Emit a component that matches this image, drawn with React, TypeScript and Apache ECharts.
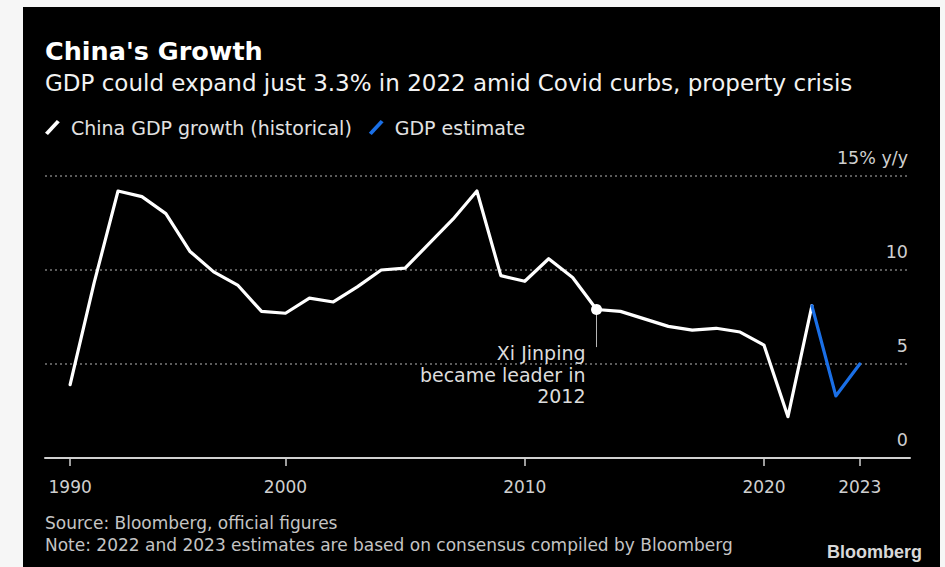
import React, { useEffect, useRef } from "react";
import * as echarts from "echarts";

// Annual real GDP growth, % y/y
const histYears = [
  1990, 1991, 1992, 1993, 1994, 1995, 1996, 1997, 1998, 1999,
  2000, 2001, 2002, 2003, 2004, 2005, 2006, 2007, 2008, 2009,
  2010, 2011, 2012, 2013, 2014, 2015, 2016, 2017, 2018, 2019,
  2020, 2021,
];
const histValues = [
  3.9, 9.3, 14.2, 13.9, 13.0, 11.0, 9.9, 9.2, 7.8, 7.7,
  8.5, 8.3, 9.1, 10.0, 10.1, 11.4, 12.7, 14.2, 9.7, 9.4,
  10.6, 9.6, 7.9, 7.8, 7.4, 7.0, 6.8, 6.9, 6.7, 6.0,
  2.2, 8.1,
];
const estYears = [2021, 2022, 2023];
const estValues = [8.1, 3.3, 5.0];

// x-axis ticks (year-end dates); first and last show the data's own years
const tickValues = [1991, 2000, 2010, 2020, 2024];
const tickLabels = ["1990", "2000", "2010", "2020", "2023"];
const yTicks = [0, 5, 10, 15];

const annotationYear = 2012;
const annotationValue = 7.9;
const annotationLineEnd = 5.9;
const annotationText = "Xi Jinping\nbecame leader in\n2012";

const FONT = "'DejaVu Sans', Verdana, sans-serif";

// each annual value is placed at the end of its year
const yearEnd = (y: number) => y + 1;

export default function App() {
  const ref = useRef<HTMLDivElement>(null);

  useEffect(() => {
    if (!ref.current) return;
    const chart = echarts.init(ref.current, undefined, { renderer: "svg" });

    const histData = histYears.map((y, i) => [yearEnd(y), histValues[i]]);
    const estData = estYears.map((y, i) => [yearEnd(y), estValues[i]]);

    chart.setOption({
      animation: false,
      backgroundColor: "#f6f6f6",
      textStyle: { fontFamily: FONT },
      title: {
        text: "China's Growth",
        subtext: "GDP could expand just 3.3% in 2022 amid Covid curbs, property crisis",
        left: 45,
        top: 38,
        padding: 0,
        itemGap: 7,
        textStyle: { color: "#ffffff", fontSize: 25.5, fontWeight: "bold", fontFamily: FONT },
        subtextStyle: { color: "#f2f2f2", fontSize: 23, fontFamily: FONT },
      },
      legend: {
        left: 45,
        top: 118,
        padding: 0,
        itemWidth: 15,
        itemHeight: 15,
        itemGap: 17,
        icon: "path://M0,13 L12,0 L15,2.2 L3,15.2 Z",
        textStyle: { color: "#e2e2e2", fontSize: 19, fontFamily: FONT, padding: [0, 0, 0, 6] },
        data: ["China GDP growth (historical)", "GDP estimate"],
      },
      grid: { left: 45, right: 35, top: 176, bottom: 109 },
      xAxis: {
        type: "value",
        min: 1989.95,
        max: 2026.1,
        axisLine: { show: true, lineStyle: { color: "#d0d0d0", width: 2 } },
        axisTick: {
          show: true,
          length: 8,
          customValues: tickValues,
          lineStyle: { color: "#d0d0d0", width: 1.5 },
        },
        axisLabel: {
          customValues: tickValues,
          margin: 20,
          color: "#cfcfcf",
          fontSize: 17,
          fontFamily: FONT,
          formatter: (v: number) => {
            const i = tickValues.indexOf(v);
            return i >= 0 ? tickLabels[i] : "";
          },
        },
        splitLine: { show: false },
      },
      yAxis: {
        type: "value",
        position: "right",
        min: 0,
        max: 15,
        interval: 5,
        axisLine: { show: false },
        axisTick: { show: false },
        axisLabel: {
          inside: true,
          margin: 2,
          verticalAlign: "bottom",
          padding: [0, 0, 9, 0],
          color: "#cfcfcf",
          fontSize: 17.5,
          fontFamily: FONT,
          formatter: (v: number) => (yTicks.indexOf(v) < 0 ? "" : v === 15 ? "15% y/y" : String(v)),
        },
        splitLine: { show: true, lineStyle: { color: "#7a7a7a", width: 1.5, type: [2, 3] } },
      },
      series: [
        {
          name: "China GDP growth (historical)",
          type: "line",
          data: histData,
          showSymbol: false,
          symbol: "none",
          color: "#ffffff",
          itemStyle: { color: "#ffffff" },
          lineStyle: { color: "#ffffff", width: 3.2, cap: "round", join: "round" },
          z: 3,
          markLine: {
            silent: true,
            symbol: ["none", "none"],
            label: { show: false },
            lineStyle: { color: "#b5b5b5", width: 1, type: "solid" },
            data: [
              [
                { coord: [yearEnd(annotationYear), annotationValue] },
                { coord: [yearEnd(annotationYear), annotationLineEnd] },
              ],
            ],
          },
          markPoint: {
            silent: true,
            symbol: "circle",
            symbolSize: 11,
            itemStyle: { color: "#ffffff" },
            label: {
              show: true,
              formatter: annotationText,
              position: [-5.5, 38.5],
              align: "right",
              verticalAlign: "top",
              color: "#dcdcdc",
              fontSize: 19,
              lineHeight: 21.5,
              fontFamily: FONT,
            },
            data: [{ coord: [yearEnd(annotationYear), annotationValue] }],
          },
        },
        {
          name: "GDP estimate",
          type: "line",
          data: estData,
          showSymbol: false,
          symbol: "none",
          color: "#1a6fe6",
          itemStyle: { color: "#1a6fe6" },
          lineStyle: { color: "#1a6fe6", width: 3.2, cap: "round", join: "round" },
          z: 4,
        },
      ],
      graphic: [
        {
          type: "rect",
          z: -10,
          silent: true,
          shape: { x: 23, y: 7, width: 917, height: 560 },
          style: { fill: "#000000" },
        },
        {
          type: "text",
          x: 45,
          y: 523,
          style: {
            text: "Source: Bloomberg, official figures",
            fill: "#c4c4c4",
            fontSize: 17,
            fontFamily: FONT,
            verticalAlign: "middle",
          },
        },
        {
          type: "text",
          x: 45,
          y: 545,
          style: {
            text: "Note: 2022 and 2023 estimates are based on consensus compiled by Bloomberg",
            fill: "#c4c4c4",
            fontSize: 17,
            fontFamily: FONT,
            verticalAlign: "middle",
          },
        },
        {
          type: "text",
          x: 922,
          y: 552,
          style: {
            text: "Bloomberg",
            fill: "#d8d8d8",
            fontSize: 18,
            fontWeight: "bold",
            fontFamily: "'Liberation Sans', Arial, sans-serif",
            align: "right",
            verticalAlign: "middle",
          },
        },
      ],
    });

    return () => chart.dispose();
  }, []);

  return (
    <div
      ref={ref}
      style={{ position: "fixed", left: 0, top: 0, width: 945, height: 567 }}
    />
  );
}
